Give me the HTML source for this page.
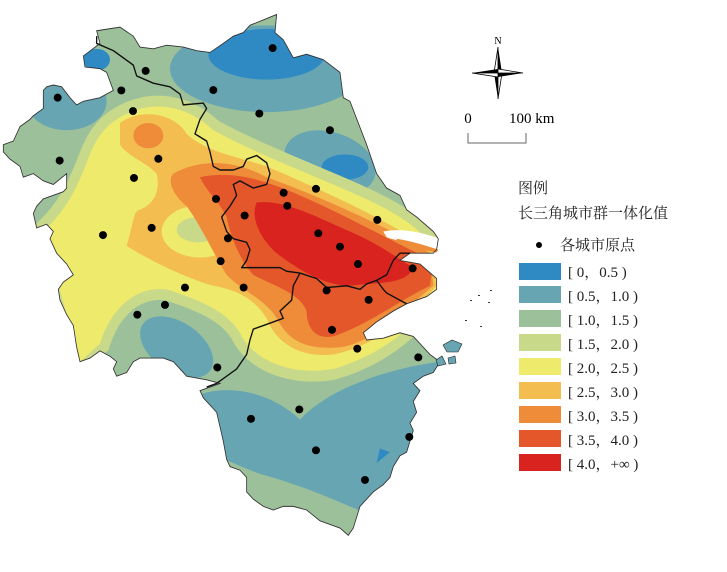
<!DOCTYPE html>
<html><head><meta charset="utf-8"><style>
body{margin:0;background:#fff;width:727px;height:567px;overflow:hidden;font-family:"Liberation Serif","Noto Serif CJK SC",serif;}
</style></head><body>
<svg width="727" height="567" viewBox="0 0 727 567" xmlns="http://www.w3.org/2000/svg">
<defs>
<clipPath id="cl"><path id="ol" d="M290,85 L360,75 L400,100 L420,130 L460,135 L500,125 L550,130 L590,140 L630,145 L670,120 L700,100 L730,90 L750,70 L790,55 L830,40 L825,90 L850,110 L880,160 L920,150 L970,165 L1020,200 L1030,270 L1050,280 L1100,400 L1130,480 L1160,520 L1200,540 L1220,580 L1250,600 L1300,640 L1315,660 L1310,690 L1300,700 L1230,700 L1200,720 L1260,730 L1310,770 L1310,800 L1280,820 L1220,840 L1180,860 L1130,890 L1090,920 L1100,940 L1150,935 L1200,920 L1240,930 L1270,960 L1290,980 L1320,1000 L1300,1030 L1270,1040 L1240,1060 L1260,1080 L1240,1110 L1250,1140 L1230,1170 L1240,1190 L1230,1220 L1220,1250 L1200,1260 L1180,1290 L1170,1320 L1150,1340 L1120,1360 L1100,1380 L1080,1400 L1070,1430 L1060,1460 L1045,1480 L1020,1460 L990,1450 L960,1440 L920,1410 L880,1400 L850,1400 L820,1410 L790,1400 L760,1380 L740,1360 L740,1320 L720,1300 L690,1290 L680,1270 L670,1220 L660,1180 L650,1140 L630,1120 L610,1100 L600,1080 L630,1070 L660,1060 L620,1050 L560,1040 L520,1000 L490,990 L420,990 L400,1000 L380,1030 L350,1040 L340,1020 L350,1000 L330,985 L300,970 L270,990 L240,1000 L230,960 L220,900 L200,870 L180,830 L175,800 L190,780 L220,760 L200,730 L170,700 L150,660 L160,640 L140,620 L110,630 L100,590 L110,570 L130,550 L160,540 L190,530 L200,520 L200,480 L160,510 L130,500 L100,480 L70,490 L60,460 L30,440 L10,420 L10,400 L40,390 L60,350 L90,330 L100,320 L130,300 L130,250 L140,240 L160,235 L185,240 L210,270 L230,290 L250,280 L300,270 L340,250 L320,200 L300,190 L255,185 L250,155 L300,120 Z"/></clipPath>
</defs>
<g transform="scale(0.3333,0.3617)">
<g clip-path="url(#cl)">
<rect x="0" y="0" width="1400" height="1600" fill="#9cc19a"/>
<!-- teal -->
<ellipse cx="800" cy="190" rx="290" ry="120" fill="#67a5b3"/>
<ellipse cx="200" cy="280" rx="120" ry="80" fill="#67a5b3"/>
<ellipse cx="990" cy="450" rx="140" ry="85" transform="rotate(15 990 450)" fill="#67a5b3"/>
<ellipse cx="530" cy="960" rx="120" ry="70" transform="rotate(30 530 960)" fill="#67a5b3"/>
<path d="M600,1090 C700,1060 820,1090 900,1160 C980,1080 1150,1020 1320,1000 L1330,1420 L1100,1420 C1000,1380 900,1340 780,1310 C720,1290 650,1260 600,1240 Z" fill="#67a5b3"/>
<!-- blue -->
<ellipse cx="800" cy="150" rx="175" ry="70" fill="#2f8ac4"/>
<ellipse cx="1035" cy="462" rx="70" ry="35" fill="#2f8ac4"/>
<ellipse cx="290" cy="165" rx="40" ry="30" fill="#2f8ac4"/>
<path d="M1130,1280 L1140,1240 L1170,1250 Z" fill="#2f8ac4"/>
<!-- yellow with light green ring -->
<path d="M350,330 C450,270 560,290 640,360 C760,420 900,470 1050,530 C1200,590 1280,640 1300,700 L1320,800 C1250,900 1150,980 1000,1020 C880,1040 760,1000 720,920 C680,860 600,830 500,800 C400,790 330,860 300,950 L240,1000 L130,640 C200,580 230,520 260,450 C280,400 300,360 350,330 Z" fill="#c9d98a" stroke="#c9d98a" stroke-width="60"/>
<path d="M350,330 C450,270 560,290 640,360 C760,420 900,470 1050,530 C1200,590 1280,640 1300,700 L1320,800 C1250,900 1150,980 1000,1020 C880,1040 760,1000 720,920 C680,860 600,830 500,800 C400,790 330,860 300,950 L240,1000 L130,640 C200,580 230,520 260,450 C280,400 300,360 350,330 Z" fill="#eeea6c"/>
<!-- orange 2.5-3 -->
<path d="M360,340 C420,300 520,310 560,370 C620,420 700,430 800,460 C950,520 1150,600 1290,690 L1310,790 C1220,880 1120,960 1000,980 C900,990 830,950 800,880 C760,820 700,800 640,790 C560,770 450,720 380,680 C400,620 400,580 420,580 C470,560 480,520 470,480 C440,450 380,430 360,400 Z" fill="#f3bd4f"/>
<ellipse cx="600" cy="640" rx="115" ry="72" fill="#eeea6c"/>
<ellipse cx="595" cy="635" rx="65" ry="35" fill="#c9d98a"/>
<ellipse cx="445" cy="375" rx="45" ry="35" fill="#ee8c3a"/>
<!-- 3-3.5 -->
<path d="M520,480 C600,440 700,440 800,490 C950,540 1150,620 1290,700 L1300,790 C1220,850 1120,950 1020,960 C900,970 860,930 830,880 C800,830 720,800 680,760 C640,700 600,620 560,570 C520,540 500,500 520,480 Z" fill="#ee8c3a"/>
<!-- 3.5-4 -->
<path d="M600,490 C700,470 800,500 900,540 C1050,600 1200,680 1300,720 L1290,790 C1200,830 1100,900 1000,930 C940,940 920,900 920,860 C900,810 820,790 760,760 C720,720 690,650 680,600 C660,560 620,530 600,490 Z" fill="#e4572a"/>
<!-- red -->
<path d="M770,560 C850,550 950,600 1050,640 C1150,680 1200,720 1240,740 C1220,790 1120,780 1050,790 C980,790 900,750 830,700 C780,660 750,600 770,560 Z" fill="#d9231f"/>
</g>
<path d="M1150,640 C1200,630 1260,640 1320,660 L1320,690 C1260,680 1200,668 1160,656 Z" fill="#fff"/>
<path d="M1190,660 C1230,665 1280,680 1315,690 L1310,698 C1260,690 1220,680 1190,668 Z" fill="#ee8c3a"/>
<use href="#ol" fill="none" stroke="#333" stroke-width="2.5"/>
<g fill="none" stroke="#111" stroke-width="4" stroke-linejoin="round">
<path d="M290,100 L290,120 L340,140 L400,180 L410,210 L460,230 L510,240 L540,260 L550,290 L610,285 L620,300 L600,330 L585,370 L620,390 L630,420 L640,460 L660,470 L700,470 L730,460 L740,440 L770,430 L800,450 L810,480 L800,510 L760,520 L720,500 L700,510 L710,540 L690,570 L665,600 L680,640 L700,660 L740,670 L750,690 L740,720 L725,740 L780,740 L840,740 L860,750 L900,755 L950,770 L980,795 L1040,790 L1080,800 L1100,785 L1130,775 L1160,760 L1180,720 L1200,700 L1230,700"/>
<path d="M1130,775 L1150,800 L1160,810 L1200,830 L1220,840"/>
<path d="M900,755 L880,790 L875,830 L840,860 L850,880 L820,890 L790,900 L760,910 L750,940 L740,980 L710,1020 L680,1040 L650,1060 L620,1070"/>
</g>
<g fill="#000">
<ellipse cx="818" cy="133" rx="12" ry="11"/><ellipse cx="437" cy="196" rx="12" ry="11"/><ellipse cx="364" cy="250" rx="12" ry="11"/><ellipse cx="173" cy="270" rx="12" ry="11"/><ellipse cx="640" cy="249" rx="12" ry="11"/><ellipse cx="399" cy="307" rx="12" ry="11"/><ellipse cx="778" cy="314" rx="12" ry="11"/><ellipse cx="990" cy="360" rx="12" ry="11"/><ellipse cx="179" cy="444" rx="12" ry="11"/><ellipse cx="475" cy="439" rx="12" ry="11"/><ellipse cx="402" cy="492" rx="12" ry="11"/><ellipse cx="948" cy="522" rx="12" ry="11"/><ellipse cx="851" cy="533" rx="12" ry="11"/><ellipse cx="862" cy="569" rx="12" ry="11"/><ellipse cx="648" cy="550" rx="12" ry="11"/><ellipse cx="734" cy="596" rx="12" ry="11"/><ellipse cx="1132" cy="608" rx="12" ry="11"/><ellipse cx="309" cy="650" rx="12" ry="11"/><ellipse cx="455" cy="630" rx="12" ry="11"/><ellipse cx="684" cy="659" rx="12" ry="11"/><ellipse cx="955" cy="645" rx="12" ry="11"/><ellipse cx="1020" cy="682" rx="12" ry="11"/><ellipse cx="1074" cy="730" rx="12" ry="11"/><ellipse cx="1238" cy="742" rx="12" ry="11"/><ellipse cx="662" cy="722" rx="12" ry="11"/><ellipse cx="555" cy="795" rx="12" ry="11"/><ellipse cx="731" cy="795" rx="12" ry="11"/><ellipse cx="980" cy="803" rx="12" ry="11"/><ellipse cx="1106" cy="829" rx="12" ry="11"/><ellipse cx="495" cy="843" rx="12" ry="11"/><ellipse cx="412" cy="870" rx="12" ry="11"/><ellipse cx="996" cy="912" rx="12" ry="11"/><ellipse cx="1072" cy="964" rx="12" ry="11"/><ellipse cx="1255" cy="988" rx="12" ry="11"/><ellipse cx="652" cy="1016" rx="12" ry="11"/><ellipse cx="898" cy="1132" rx="12" ry="11"/><ellipse cx="753" cy="1158" rx="12" ry="11"/><ellipse cx="948" cy="1245" rx="12" ry="11"/><ellipse cx="1228" cy="1208" rx="12" ry="11"/><ellipse cx="1095" cy="1327" rx="12" ry="11"/>
</g>
</g>
<!-- islands -->
<g fill="#67a5b3" stroke="#222" stroke-width="0.6">
<path d="M443,345 L452,340 L462,344 L458,352 L447,352 Z"/><path d="M436,360 L442,356 L446,364 L438,366 Z"/><path d="M448,358 L455,356 L456,363 L449,364 Z"/>
</g>
<g fill="#333"><rect x="470" y="300" width="2" height="1"/><rect x="478" y="295" width="2" height="1"/><rect x="488" y="302" width="2" height="1"/><rect x="465" y="320" width="2" height="1"/><rect x="480" y="326" width="2" height="1"/><rect x="490" y="290" width="2" height="1"/></g>
<!-- compass -->
<g>
<polygon points="498,47 502,73 498,73" fill="#000"/><polygon points="498,47 494,73 498,73" fill="#fff" stroke="#000" stroke-width="0.8"/>
<polygon points="498,99 494,73 498,73" fill="#000"/><polygon points="498,99 502,73 498,73" fill="#fff" stroke="#000" stroke-width="0.8"/>
<polygon points="472,73 498,69 498,73" fill="#000"/><polygon points="472,73 498,77 498,73" fill="#fff" stroke="#000" stroke-width="0.8"/>
<polygon points="523,73 498,77 498,73" fill="#000"/><polygon points="523,73 498,69 498,73" fill="#fff" stroke="#000" stroke-width="0.8"/>
</g>
<text x="498" y="44" font-size="10" text-anchor="middle" font-family="Liberation Serif,serif">N</text>
<text x="468" y="123" font-size="15" text-anchor="middle" font-family="Liberation Serif,serif">0</text>
<text x="509" y="123" font-size="15" font-family="Liberation Serif,serif">100 km</text>
<path d="M468,133 L468,143 L526,143 L526,133" fill="none" stroke="#666" stroke-width="1"/>
<!-- legend -->
<g font-family="Liberation Serif,'Noto Serif CJK SC',serif" fill="#222">
<text x="518" y="193" font-size="15">图例</text>
<text x="518" y="218" font-size="15">长三角城市群一体化值</text>
<circle cx="539" cy="245" r="3" fill="#000"/>
<text x="560" y="250" font-size="15">各城市原点</text>
<g font-size="15">
<rect x="519" y="263" width="42" height="17" fill="#2f8ac4"/><text x="568" y="277">[ 0，0.5 )</text>
<rect x="519" y="286" width="42" height="17" fill="#67a5b3"/><text x="568" y="301">[ 0.5，1.0 )</text>
<rect x="519" y="310" width="42" height="17" fill="#9cc19a"/><text x="568" y="325">[ 1.0，1.5 )</text>
<rect x="519" y="334" width="42" height="17" fill="#c9d98a"/><text x="568" y="349">[ 1.5，2.0 )</text>
<rect x="519" y="358" width="42" height="17" fill="#eeea6c"/><text x="568" y="373">[ 2.0，2.5 )</text>
<rect x="519" y="382" width="42" height="17" fill="#f3bd4f"/><text x="568" y="397">[ 2.5，3.0 )</text>
<rect x="519" y="406" width="42" height="17" fill="#ee8c3a"/><text x="568" y="421">[ 3.0，3.5 )</text>
<rect x="519" y="430" width="42" height="17" fill="#e4572a"/><text x="568" y="445">[ 3.5，4.0 )</text>
<rect x="519" y="454" width="42" height="17" fill="#d9231f"/><text x="568" y="469">[ 4.0，+∞ )</text>
</g>
</g>
</svg>
</body></html>
